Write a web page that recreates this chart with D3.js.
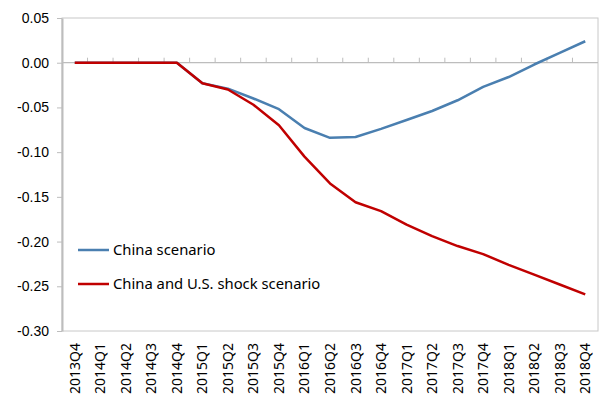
<!DOCTYPE html>
<html>
<head>
<meta charset="utf-8">
<script src="https://cdn.jsdelivr.net/npm/d3@7"></script>
<style>
  body { margin: 0; background: #fff; }
  svg { display: block; font-family: "Noto Sans", "Open Sans", sans-serif; }
</style>
</head>
<body>
<div id="chart"></div>
<script>
// chart data
const quarters = ["2013Q4", "2014Q1", "2014Q2", "2014Q3", "2014Q4",
    "2015Q1", "2015Q2", "2015Q3", "2015Q4",
    "2016Q1", "2016Q2", "2016Q3", "2016Q4",
    "2017Q1", "2017Q2", "2017Q3", "2017Q4",
    "2018Q1", "2018Q2", "2018Q3", "2018Q4"];
const chinaScenario = [0, 0, 0, 0, 0,
    -0.023, -0.029, -0.040, -0.052,
    -0.073, -0.084, -0.083, -0.074,
    -0.064, -0.054, -0.042, -0.027,
    -0.016, -0.002, 0.011, 0.024];
const chinaUsScenario = [0, 0, 0, 0, 0,
    -0.023, -0.030, -0.047, -0.070,
    -0.105, -0.135, -0.156, -0.166,
    -0.181, -0.194, -0.205, -0.214,
    -0.226, -0.237, -0.248, -0.259];
const yTicks = [0.05, 0, -0.05, -0.10, -0.15, -0.20, -0.25, -0.30];
const seriesNames = ["China scenario", "China and U.S. shock scenario"];
const seriesColors = ["#4a7fb0", "#c00000"];

const width = 601, height = 405;
const margin = {left: 62, top: 18, right: 3, bottom: 74};
const innerW = width - margin.left - margin.right;
const innerH = height - margin.top - margin.bottom;

const svg = d3.select("#chart").append("svg")
    .attr("width", width)
    .attr("height", height);

const x = d3.scaleBand().domain(quarters).range([0, innerW]);
const y = d3.scaleLinear().domain([-0.30, 0.05]).range([innerH, 0]);

const g = svg.append("g")
    .attr("transform", "translate(" + margin.left + "," + margin.top + ")");

// plot frame
g.append("rect")
    .attr("x", 0).attr("y", 0)
    .attr("width", innerW).attr("height", innerH)
    .attr("fill", "none")
    .attr("stroke", "#c8c8c8")
    .attr("stroke-width", 1);

// y axis
const yAxis = g.append("g")
    .call(d3.axisLeft(y).tickValues(yTicks).tickSize(5).tickSizeOuter(0)
        .tickFormat(d3.format(".2f")));
yAxis.select(".domain").attr("stroke", "#bdbdbd").attr("stroke-width", 2);
yAxis.selectAll(".tick line").attr("stroke", "#bdbdbd");
yAxis.selectAll(".tick text")
    .attr("x", -13)
    .attr("font-size", 14)
    .attr("fill", "#000")
    .text(d => d3.format(".2f")(d).replace("−", "-"));

// category axis at zero, ticks between categories pointing up
const zeroY = y(0);
g.append("line")
    .attr("x1", 0).attr("x2", innerW)
    .attr("y1", zeroY).attr("y2", zeroY)
    .attr("stroke", "#bdbdbd").attr("stroke-width", 1.3);
g.append("g")
    .selectAll("line")
    .data(quarters.slice(1))
    .enter()
    .append("line")
    .attr("x1", d => x(d)).attr("x2", d => x(d))
    .attr("y1", zeroY).attr("y2", zeroY - 5)
    .attr("stroke", "#bdbdbd");

// x labels at bottom, rotated
g.append("g")
    .selectAll("text")
    .data(quarters)
    .enter()
    .append("text")
    .attr("transform", d => "translate(" + (x(d) + x.bandwidth() / 2 + 5) + "," + (innerH + 12) + ") rotate(-90)")
    .attr("text-anchor", "end")
    .attr("font-size", 14)
    .attr("fill", "#000")
    .text(d => d);

// lines
const line = d3.line()
    .x((d, i) => x(quarters[i]) + x.bandwidth() / 2)
    .y(d => y(d));

[chinaScenario, chinaUsScenario].forEach((vals, k) => {
    g.append("path")
        .datum(vals)
        .attr("fill", "none")
        .attr("stroke", seriesColors[k])
        .attr("stroke-width", 2.5)
        .attr("stroke-linejoin", "round")
        .attr("d", line);
});

// legend
const legend = g.append("g")
    .attr("transform", "translate(16," + (innerH - 81) + ")");
seriesNames.forEach((name, k) => {
    const row = legend.append("g").attr("transform", "translate(0," + (k * 34) + ")");
    row.append("line")
        .attr("x1", 0).attr("x2", 31)
        .attr("y1", 0).attr("y2", 0)
        .attr("stroke", seriesColors[k])
        .attr("stroke-width", 2.5);
    row.append("text")
        .attr("x", 35).attr("y", 5)
        .attr("font-size", 14.8)
        .attr("fill", "#000")
        .text(name);
});
</script>
</body>
</html>
